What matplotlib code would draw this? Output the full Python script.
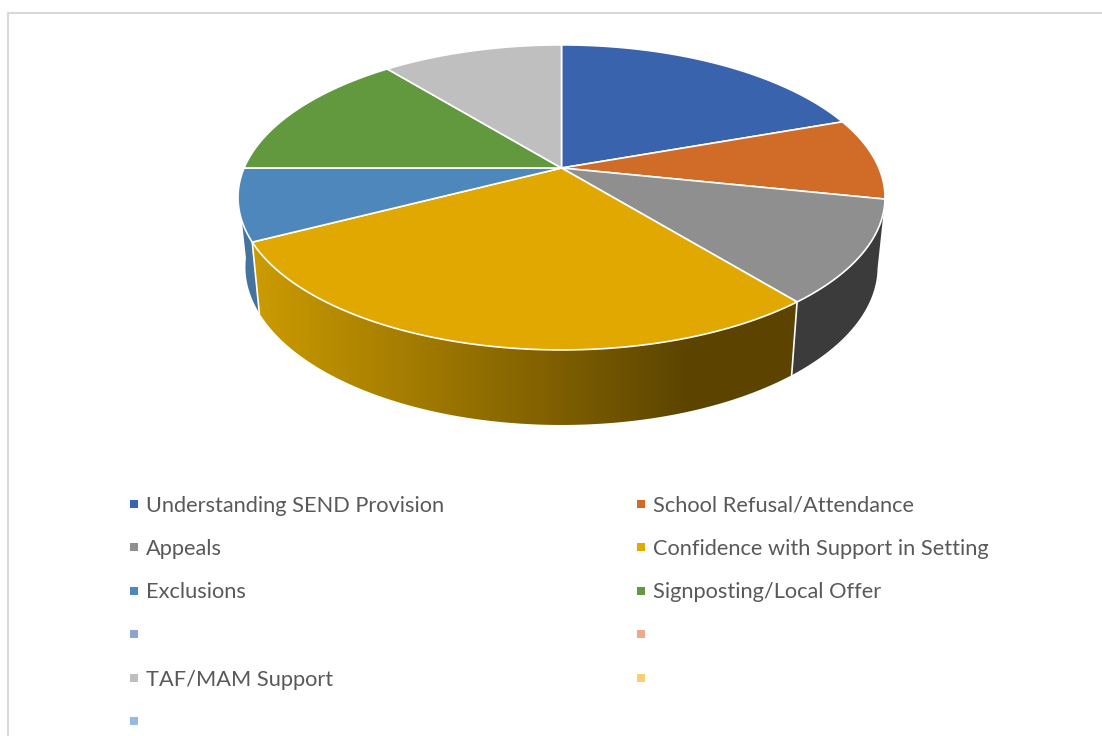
import numpy as np
import matplotlib
matplotlib.use('Agg')
import matplotlib.pyplot as plt
from matplotlib.patches import Polygon, Rectangle

labels = ['Understanding SEND Provision', 'School Refusal/Attendance',
          'Appeals', 'Confidence with Support in Setting',
          'Exclusions', 'Signposting/Local Offer',
          '', '', 'TAF/MAM Support', '', '']
values = [18, 8, 10, 26, 7, 13, 0, 0, 10, 0, 0]
colors = ['#3A63AD', '#D06C28', '#8F8F8F', '#E0A800', '#4D87BC', '#62993F',
          '#8FA2D4', '#F1A78A', '#BFBFBF', '#FFCD75', '#95B9E0']
wall_colors = {2: '#3B3B3B', 4: '#44739E'}

# perspective of the pie top, in pixels
CX, CY = 561.5, 168.0
C_PERSP, A_PERSP, D_PERSP = -0.193, 114.4, 317.4


def top_edge(theta):
    # theta in radians, clockwise from 12 o'clock
    u = np.sin(theta)
    v = -np.cos(theta)
    w = 1 + C_PERSP * v
    return CX + D_PERSP * u / w, (CY + A_PERSP * v) / w


def bottom_edge(theta):
    x, y = top_edge(theta)
    return CX + 0.977 * (x - CX), CY + 1.037 * (y - CY) + 68.3


def gold_gradient():
    # left to right shading of the largest slice's side
    xs = np.arange(240, 810)
    t = np.clip((xs - 255) / (690 - 255), 0, 1)[:, None]
    light = np.array([0xCB, 0x9B, 0x00]) / 255
    dark = np.array([0x5C, 0x44, 0x00]) / 255
    return (light + (dark - light) * t)[None, :, :], xs[0], xs[-1]


def wall_outline(start, end):
    thetas = np.linspace(start, end, 240)
    xt, yt = top_edge(thetas)
    xb, yb = bottom_edge(thetas)
    return np.column_stack([np.concatenate([xt, xb[::-1]]),
                            np.concatenate([yt, yb[::-1]])])


def draw_wall(ax, start, end, idx):
    pts = wall_outline(start, end)
    if idx in wall_colors:
        ax.add_patch(Polygon(pts, closed=True, facecolor=wall_colors[idx],
                             edgecolor='none', zorder=2))
    else:
        grad, x0, x1 = gold_gradient()
        img = ax.imshow(grad, extent=(x0, x1, 440, 150), aspect='auto',
                        interpolation='bilinear', zorder=2)
        clip = Polygon(pts, closed=True, transform=ax.transData)
        img.set_clip_path(clip)


def draw_top(ax, start, end, color):
    thetas = np.linspace(start, end, 200)
    xs, ys = top_edge(thetas)
    pts = [(CX, CY)] + list(zip(xs, ys))
    ax.add_patch(Polygon(pts, closed=True, facecolor=color, edgecolor='white',
                         linewidth=1.2, joinstyle='round', zorder=4))


fig = plt.figure(figsize=(11.02, 7.36), dpi=100)
ax = fig.add_axes([0, 0, 1, 1])

# outer chart frame, cut off at the right and bottom
ax.plot([8.3, 8.3, 1102], [736, 12.7, 12.7], color='#D9D9D9', lw=1.5, zorder=1)

angles = np.concatenate([[0], np.cumsum(values)]) / sum(values) * 2 * np.pi

for i, val in enumerate(values):
    if val == 0:
        continue
    # only the front of the pie shows its side
    start = max(angles[i], np.radians(100))
    end = min(angles[i + 1], np.radians(262))
    if start < end:
        draw_wall(ax, start, end, i)

# white seams where the side changes colour
for i in (3, 4):
    xa, ya = top_edge(angles[i])
    xc, yc = bottom_edge(angles[i])
    ax.plot([xa, xc], [ya, yc], color='white', lw=1.2, zorder=3)

for i, val in enumerate(values):
    if val > 0:
        draw_top(ax, angles[i], angles[i + 1], colors[i])

# legend, two columns filled row by row
col_x = [130, 637]
text_x = [146, 653]
row_y = [503.5, 547, 590.5, 634, 677.5, 721]
for i, (name, color) in enumerate(zip(labels, colors)):
    y = row_y[i // 2]
    ax.add_patch(Rectangle((col_x[i % 2], y - 4), 8, 8, facecolor=color,
                           edgecolor='none', zorder=5))
    if name:
        ax.text(text_x[i % 2], y, name, fontsize=15.7, family='Lato',
                color='#595959', va='center_baseline', ha='left', zorder=5)

ax.set_xlim(0, 1102)
ax.set_ylim(736, 0)
ax.axis('off')

fig.savefig('out.png', dpi=100)
